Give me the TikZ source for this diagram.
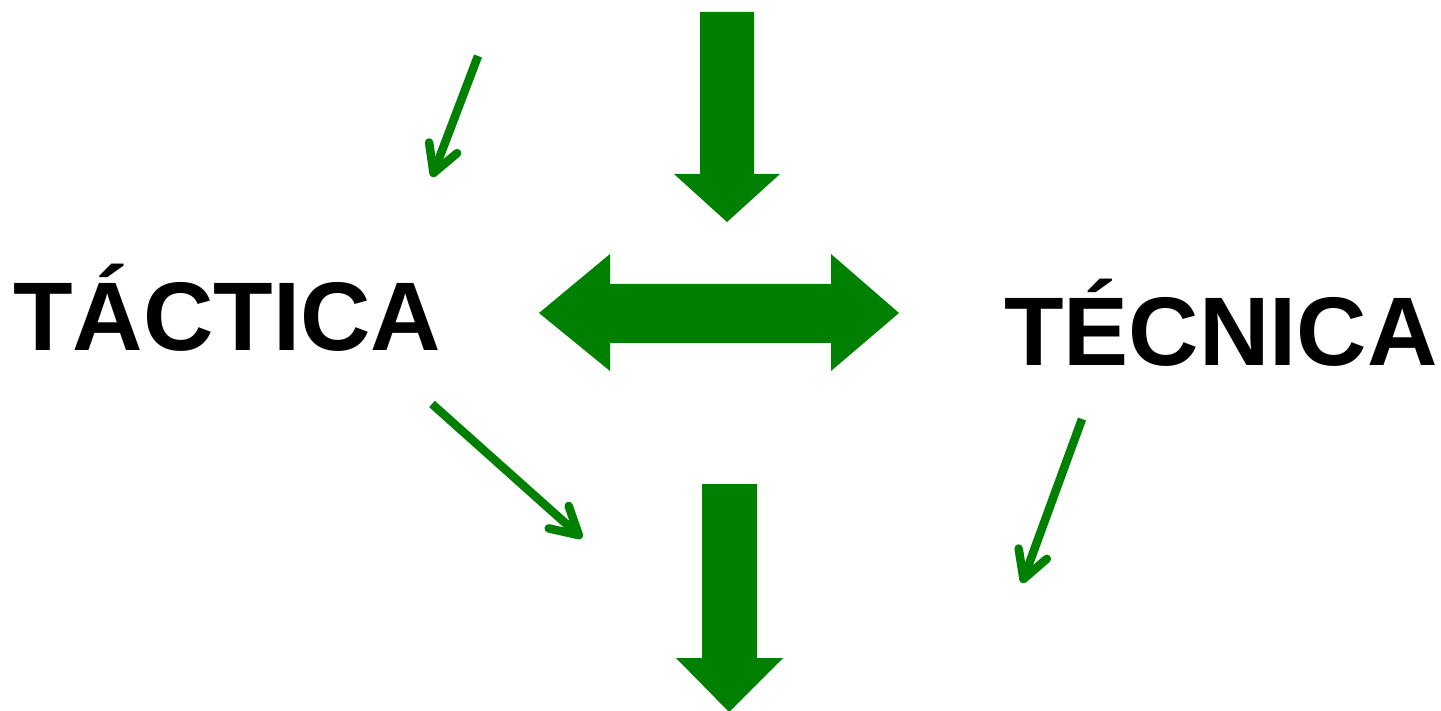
\documentclass[tikz,border=0pt]{standalone}
\usepackage{fontspec}
\setmainfont{Liberation Sans}
\usetikzlibrary{arrows.meta}
\definecolor{leafgreen}{RGB}{0,128,0}
\tikzset{
  bigarrow/.style={fill=leafgreen, draw=none},
  thinarrow/.style={draw=leafgreen, line width=8.5pt, line cap=butt,
    -{Straight Barb[length=27pt,width=30pt,round]}},
  bigword/.style={anchor=base west, inner sep=0pt, font=\bfseries\fontsize{97.5}{100}\selectfont}
}
\begin{document}
\begin{tikzpicture}[x=1pt,y=-1pt]
\useasboundingbox (0,0) rectangle (1441,711);
% texts
\node[bigword] (tactica) at (13,351) {TÁCTICA};
\node[bigword] (tecnica) at (1004,366) {TÉCNICA};
% top big arrow
\fill[bigarrow] (700,12) -- (754,12) -- (754,174) -- (780,174) -- (727,222) -- (674,174) -- (700,174) -- cycle;
% bottom big arrow
\fill[bigarrow] (702,484) -- (757,484) -- (757,658) -- (783,658) -- (729,712) -- (676,658) -- (702,658) -- cycle;
% double arrow
\fill[bigarrow] (539,313) -- (610,254) -- (610,284) -- (831,284) -- (831,254) -- (899,313) -- (831,371) -- (831,343) -- (610,343) -- (610,371) -- cycle;
% thin arrows
\coordinate (a1s) at (478,56);
\coordinate (a1e) at (432,177);
\coordinate (a2s) at (432,404);
\coordinate (a2e) at (582,538);
\coordinate (a3s) at (1082,419);
\coordinate (a3e) at (1022,583);
\draw[thinarrow] (a1s) -- (a1e);
\draw[thinarrow] (a2s) -- (a2e);
\draw[thinarrow] (a3s) -- (a3e);
\end{tikzpicture}
\end{document}
